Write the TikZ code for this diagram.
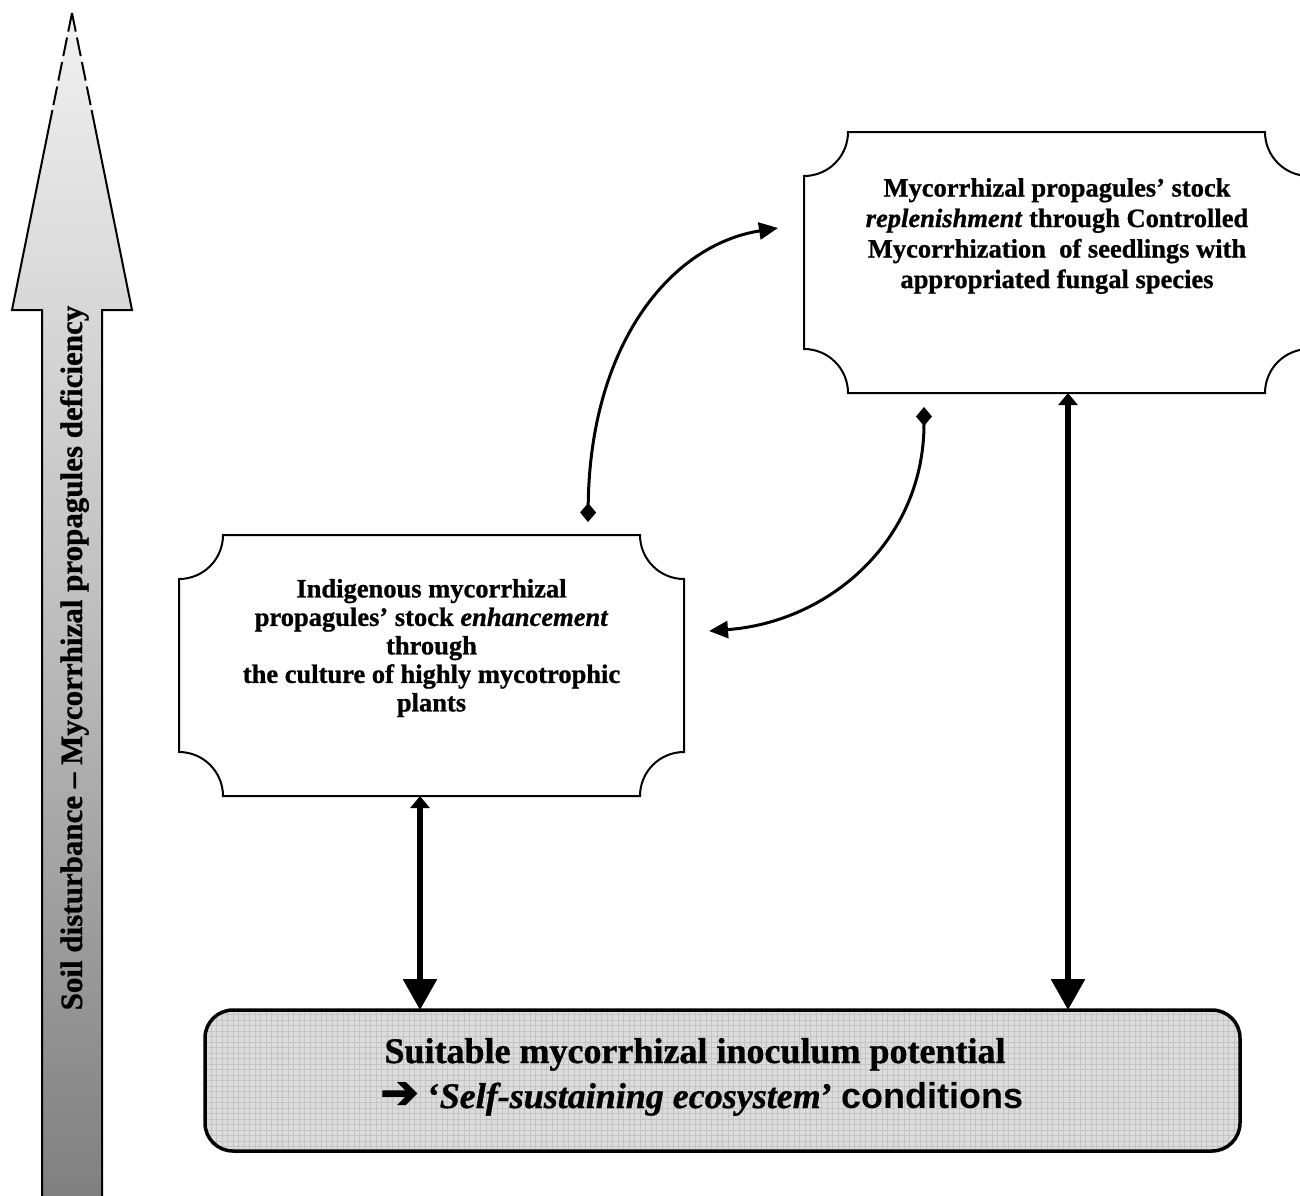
\documentclass[tikz,border=0pt]{standalone}
\usepackage{fontspec}
\setmainfont{Liberation Serif}[BoldFeatures={FakeBold=0.9},BoldItalicFeatures={FakeBold=0.9}]
\newfontfamily\arialfont{Liberation Sans}
\newfontfamily\dejavuheavy{DejaVu Sans}[FakeBold=2.5]
\usetikzlibrary{arrows.meta,calc}
\definecolor{goalfill}{RGB}{220,220,220}
\definecolor{gridcol}{RGB}{196,196,196}
\pgfdeclareverticalshading{sidegrad}{100bp}{color(0bp)=(black!64); color(25bp)=(black!50); color(50bp)=(black!25); color(76bp)=(black!5); color(100bp)=(white)}
\newcommand\plaqueframe[1]{%
  \draw[frameline] let \p1=(#1.north west), \p2=(#1.south east) in
    (\x1,\y1-44pt) .. controls (\x1+24.3pt,\y1-44pt) and (\x1+44pt,\y1-24.3pt) .. (\x1+44pt,\y1)
    -- (\x2-44pt,\y1) .. controls (\x2-44pt,\y1-24.3pt) and (\x2-24.3pt,\y1-44pt) .. (\x2,\y1-44pt)
    -- (\x2,\y2+44pt) .. controls (\x2-24.3pt,\y2+44pt) and (\x2-44pt,\y2+24.3pt) .. (\x2-44pt,\y2)
    -- (\x1+44pt,\y2) .. controls (\x1+44pt,\y2+24.3pt) and (\x1+24.3pt,\y2+44pt) .. (\x1,\y2+44pt)
    -- cycle;}
\begin{document}
\begin{tikzpicture}[x=1pt,y=-1pt,
  sideline/.style={line width=2pt,draw=black,line join=miter},
  sidedash/.style={sideline,dash pattern=on 19pt off 6pt},
  sidetext/.style={rotate=90,anchor=base,inner sep=0pt,font=\fontsize{31pt}{36pt}\selectfont\bfseries},
  frameline/.style={line width=2pt,draw=black},
  plaquebox/.style={rectangle,draw=none,minimum width=505pt,minimum height=261pt,inner sep=0pt,outer sep=0pt},
  boxtext/.style={align=center,inner sep=0pt,font=\fontsize{26.5pt}{30.5pt}\selectfont\bfseries},
  boxtextL/.style={boxtext,font=\fontsize{26.5pt}{28.5pt}\selectfont\bfseries},
  goalbox/.style={rectangle,draw=black,line width=3.5pt,rounded corners=28pt,fill=goalfill,
    minimum width=1035pt,minimum height=141pt,inner sep=0pt,outer sep=0pt,
    path picture={\draw[gridcol,line width=0.8pt] (path picture bounding box.south west) grid[step=5.5pt] (path picture bounding box.north east);}},
  goaltext/.style={anchor=base,inner sep=0pt,font=\fontsize{36pt}{42pt}\selectfont\bfseries},
  linkthick/.style={line width=6pt,{Triangle[length=12pt,width=19pt]}-{Triangle[length=31pt,width=33pt]}},
  curvelink/.style={line width=3pt,{Diamond[length=19pt,width=16pt]}-{Triangle[length=19pt,width=17pt]}}
]
\useasboundingbox[fill=white] (0,0) rectangle (1300,1195);

% big side arrow
\shade[shading=sidegrad] (72,13) -- (132,310) -- (102,310) -- (102,1197) -- (42,1197) -- (42,310) -- (12,310) -- cycle;
\draw[sideline] (91.6,110) -- (132,310) -- (102,310) -- (102,1197);
\draw[sideline] (52.4,110) -- (12,310) -- (42,310) -- (42,1197);
\draw[sidedash] (72,13) -- (91.6,110);
\draw[sidedash] (72,13) -- (52.4,110);
\node[sidetext] (side) at (82,658) {Soil disturbance – Mycorrhizal propagules deficiency};

% plaque boxes
\node[plaquebox] (L) at (431.5,665.5) {};
\node[plaquebox] (R) at (1056.5,262.5) {};
\plaqueframe{L}
\plaqueframe{R}
\node[boxtextL] (Ltxt) at (431.5,648) {Indigenous mycorrhizal\\propagules’ stock \textit{enhancement}\\through\\the culture of highly mycotrophic\\plants};
\node[boxtext] (Rtxt) at (1057,236) {Mycorrhizal propagules’ stock\\\textit{replenishment} through Controlled\\Mycorrhization\ \ of seedlings with\\appropriated fungal species};

% goal box
\node[goalbox] (G) at (722.5,1080.5) {};
\node[goaltext] (G1) at (695,1063) {Suitable mycorrhizal inoculum potential};
\node[goaltext] (G2) at (702,1108) {{\dejavuheavy\fontsize{46pt}{46pt}\selectfont ➔} ‘\textit{Self-sustaining ecosystem}’ {\arialfont conditions}};

% straight double arrows
\coordinate (xL) at (420,0);
\coordinate (xR) at (1068,0);
\draw[linkthick] (L.south -| xL) -- (G.north -| xL);
\draw[linkthick] (R.south -| xR) -- (G.north -| xR);

% curved arrows
\coordinate (c1a) at (588,522);
\coordinate (c1b) at (778,228);
\coordinate (c2a) at (924,407);
\coordinate (c2b) at (709,631);
\draw[curvelink] (c1a) .. controls (590,345) and (670,245) .. (c1b);
\draw[curvelink] (c2a) .. controls (924,540) and (830,622) .. (c2b);
\end{tikzpicture}
\end{document}
